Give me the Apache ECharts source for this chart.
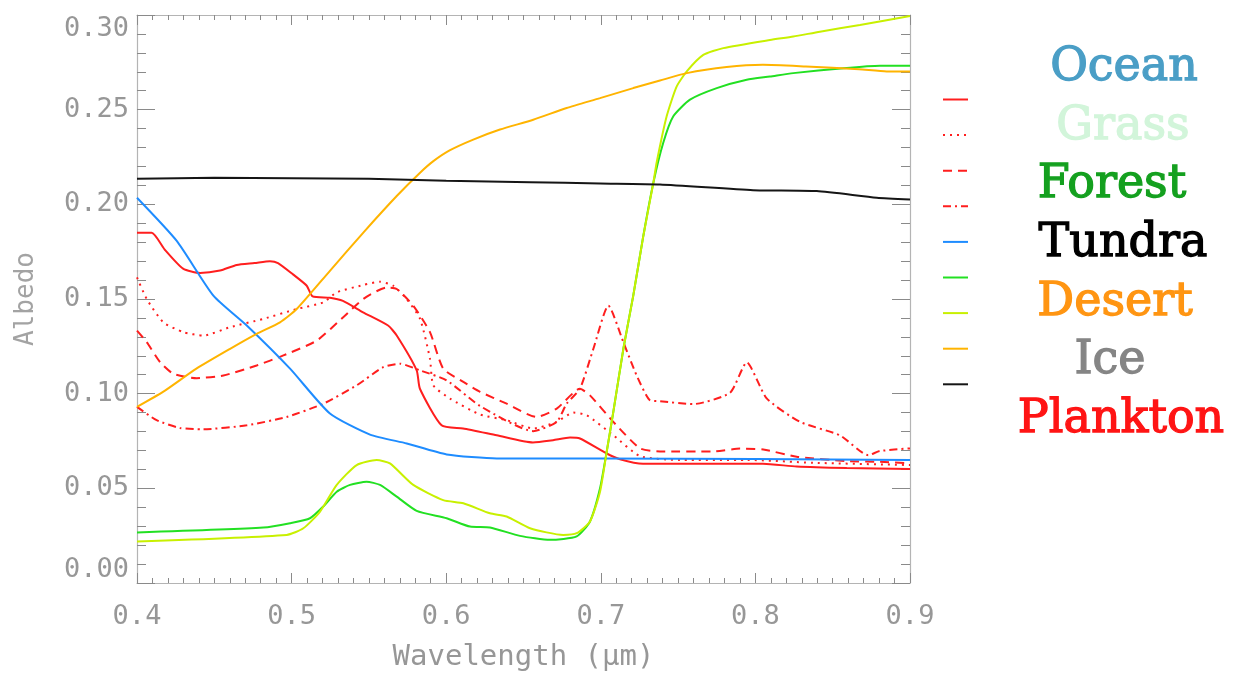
<!DOCTYPE html>
<html>
<head>
<meta charset="utf-8">
<script src="https://cdn.jsdelivr.net/npm/echarts@6.0.0/dist/echarts.min.js"></script>
<style>
html,body{margin:0;padding:0;background:#fff;}
#chart{width:1239px;height:677px;}
</style>
</head>
<body>
<div id="chart"></div>
<script>
// ---- data: [wavelength (µm), albedo] ----
const redSolid = [[0.400,0.185],[0.4095,0.185],[0.418,0.176],[0.4298,0.166],[0.4408,0.1637],[0.4537,0.165],[0.4645,0.168],[0.476,0.169],[0.486,0.170],[0.4912,0.169],[0.5009,0.163],[0.5098,0.157],[0.5136,0.1514],[0.5248,0.1507],[0.5332,0.149],[0.5462,0.143],[0.5624,0.136],[0.568,0.1307],[0.5809,0.1123],[0.583,0.1026],[0.597,0.0833],[0.6109,0.0816],[0.6327,0.078],[0.6561,0.0742],[0.6691,0.0754],[0.6801,0.0768],[0.6865,0.0763],[0.7038,0.0684],[0.7124,0.0654],[0.7273,0.063],[0.7726,0.063],[0.8049,0.063],[0.8267,0.0615],[0.8591,0.0607],[0.9,0.0602]];
const redDotted = [[0.4,0.1614],[0.4063,0.15],[0.417,0.1377],[0.43,0.1325],[0.4429,0.1307],[0.4602,0.1351],[0.4817,0.1395],[0.5033,0.1447],[0.5205,0.1482],[0.5292,0.1535],[0.5464,0.1574],[0.5572,0.1591],[0.5658,0.157],[0.5744,0.15],[0.5831,0.1395],[0.5895,0.1184],[0.5917,0.1044],[0.6025,0.0974],[0.6219,0.089],[0.6391,0.086],[0.6563,0.0816],[0.6715,0.0851],[0.6822,0.09],[0.6909,0.0886],[0.7081,0.078],[0.7254,0.067],[0.7512,0.065],[0.7944,0.065],[0.8374,0.0635],[0.9,0.0623]];
const redDashed = [[0.4,0.1333],[0.4063,0.1272],[0.4149,0.1167],[0.4235,0.1105],[0.4386,0.1082],[0.4559,0.1096],[0.4774,0.1149],[0.4947,0.1202],[0.5162,0.128],[0.5334,0.1404],[0.5464,0.15],[0.5615,0.1561],[0.568,0.1553],[0.5787,0.1465],[0.5895,0.1325],[0.5981,0.1132],[0.6111,0.1062],[0.6219,0.101],[0.6391,0.0947],[0.6584,0.0877],[0.6715,0.0921],[0.6865,0.1026],[0.693,0.0991],[0.7081,0.0851],[0.7254,0.0711],[0.7383,0.0695],[0.7727,0.0695],[0.7901,0.071],[0.8051,0.0705],[0.8267,0.0667],[0.8591,0.0644],[0.8806,0.064],[0.9,0.0632]];
const redDashDot = [[0.4,0.093],[0.4127,0.086],[0.4278,0.0819],[0.4429,0.0812],[0.471,0.0833],[0.4968,0.0877],[0.5205,0.0947],[0.5421,0.1044],[0.5593,0.114],[0.5701,0.1158],[0.5831,0.1123],[0.6003,0.107],[0.6219,0.0935],[0.6563,0.0802],[0.6715,0.0851],[0.6779,0.0947],[0.6865,0.1026],[0.6952,0.1237],[0.7049,0.1465],[0.7146,0.1272],[0.7232,0.1096],[0.7318,0.0965],[0.7383,0.096],[0.7598,0.0945],[0.7836,0.1005],[0.7944,0.1165],[0.8073,0.0975],[0.8288,0.0851],[0.8547,0.078],[0.873,0.0675],[0.8805,0.0697],[0.9,0.0711]];
const blueLine = [[0.4,0.2035],[0.4257,0.1807],[0.4494,0.1518],[0.471,0.136],[0.499,0.1132],[0.5248,0.0895],[0.5507,0.0784],[0.5745,0.0737],[0.6003,0.0679],[0.6327,0.0658],[0.7,0.0658],[0.8,0.0655],[0.9,0.065]];
const greenLine = [[0.4,0.0267],[0.4817,0.0293],[0.499,0.0316],[0.5119,0.0342],[0.5205,0.0404],[0.5292,0.0482],[0.5378,0.0518],[0.5485,0.0535],[0.5572,0.0518],[0.568,0.0456],[0.5809,0.0381],[0.6003,0.0342],[0.6154,0.0298],[0.6283,0.0293],[0.6477,0.0249],[0.6671,0.0228],[0.6844,0.0246],[0.693,0.0325],[0.6995,0.05],[0.7038,0.0693],[0.7081,0.0904],[0.7146,0.1237],[0.721,0.1518],[0.7275,0.1833],[0.734,0.2114],[0.7404,0.2325],[0.7469,0.2465],[0.7577,0.2553],[0.775,0.2614],[0.7944,0.2658],[0.8094,0.2675],[0.8245,0.2693],[0.8569,0.2719],[0.8806,0.2732],[0.9,0.2732]];
const yellowGreenLine = [[0.4,0.0219],[0.4968,0.0254],[0.5076,0.0289],[0.5184,0.0377],[0.5292,0.0518],[0.5421,0.0623],[0.555,0.0649],[0.5636,0.0632],[0.5787,0.0518],[0.5981,0.0438],[0.6111,0.0421],[0.6283,0.0368],[0.6391,0.0351],[0.6542,0.0289],[0.6757,0.0254],[0.6844,0.0263],[0.693,0.0325],[0.6995,0.0482],[0.7038,0.0693],[0.7081,0.0904],[0.7146,0.1237],[0.721,0.1518],[0.7275,0.1833],[0.734,0.2114],[0.7361,0.222],[0.7426,0.2465],[0.7491,0.2623],[0.7556,0.2702],[0.7663,0.2789],[0.7792,0.2825],[0.8094,0.2868],[0.8245,0.2886],[0.8417,0.2912],[0.8676,0.2947],[0.9,0.2995]];
const orangeLine = [[0.4,0.093],[0.4168,0.1009],[0.4384,0.1132],[0.4602,0.1237],[0.4774,0.1316],[0.4925,0.1377],[0.5033,0.1447],[0.5248,0.1649],[0.5464,0.1851],[0.568,0.2044],[0.5831,0.2167],[0.5917,0.2228],[0.6025,0.2286],[0.6175,0.2342],[0.6348,0.2395],[0.6563,0.2447],[0.6779,0.2509],[0.6995,0.2561],[0.721,0.2614],[0.7383,0.2654],[0.7556,0.2693],[0.7814,0.2725],[0.8049,0.2737],[0.8327,0.2728],[0.867,0.2714],[0.8849,0.2702],[0.9,0.2702]];
const blackLine = [[0.4,0.2135],[0.45,0.214],[0.5,0.2138],[0.55,0.2135],[0.6,0.2125],[0.6542,0.2117],[0.6995,0.211],[0.7383,0.2105],[0.7985,0.2075],[0.8397,0.207],[0.8785,0.2035],[0.9,0.2026]];

const labelNames = ['Ocean','Grass','Forest','Tundra','Desert','Ice','Plankton'];
const labelColors = ['#4a9ec6','#d2f5da','#14a01f','#000000','#ff9512','#858585','#ff1414'];

const xTicks = [0.4,0.5,0.6,0.7,0.8,0.9];
const yTicks = [0.00,0.05,0.10,0.15,0.20,0.25,0.30];

// series styles
const seriesDefs = [
  {name:'Red solid',      data:redSolid,        color:'#ff1e1e', type:'solid'},
  {name:'Red dotted',     data:redDotted,       color:'#ff1e1e', type:[2,5]},
  {name:'Red dashed',     data:redDashed,       color:'#ff1e1e', type:[9,6]},
  {name:'Red dash-dot',   data:redDashDot,      color:'#ff1e1e', type:[8,4,2,4]},
  {name:'Blue',           data:blueLine,        color:'#1e8cff', type:'solid'},
  {name:'Green',          data:greenLine,       color:'#22e022', type:'solid'},
  {name:'Yellow-green',   data:yellowGreenLine, color:'#c8f000', type:'solid'},
  {name:'Orange',         data:orangeLine,      color:'#ffb400', type:'solid'},
  {name:'Black',          data:blackLine,       color:'#151515', type:'solid'}
];

const chart = echarts.init(document.getElementById('chart'), null, {renderer:'canvas'});

const tickFont = '"DejaVu Sans Mono", monospace';
const axisGray = '#b4b4b4';
const tickGray = '#8a8a8a';
const labelGray = '#979797';

function xAxisCfg(pos, show){
  return {
    type:'value', position:pos, min:xTicks[0], max:xTicks[xTicks.length-1], interval:0.1,
    axisLine:{show:true, onZero:false, lineStyle:{color:axisGray, width:1.2}},
    axisTick:{show:true, inside:true, length:10, lineStyle:{color:tickGray}},
    minorTick:{show:true, splitNumber:10, length:5, lineStyle:{color:tickGray}},
    splitLine:{show:false}, minorSplitLine:{show:false},
    axisLabel:{show:show, formatter:v=>v.toFixed(1), fontFamily:tickFont, fontSize:27, color:labelGray, margin:20},
    name: show ? 'Wavelength (μm)' : '', nameLocation:'middle', nameGap:60,
    nameTextStyle:{fontFamily:tickFont, fontSize:29, color:labelGray}
  };
}
function yAxisCfg(pos, show){
  return {
    type:'value', position:pos, min:yTicks[0], max:yTicks[yTicks.length-1], interval:0.05,
    axisLine:{show:true, onZero:false, lineStyle:{color:axisGray, width:1.2}},
    axisTick:{show:true, inside:true, length:18, lineStyle:{color:tickGray}},
    minorTick:{show:true, splitNumber:5, length:9, lineStyle:{color:tickGray}},
    splitLine:{show:false}, minorSplitLine:{show:false},
    axisLabel:{show:show, formatter:v=>v.toFixed(2), fontFamily:tickFont, fontSize:27, color:labelGray, margin:8,
      verticalAlignMinLabel:'bottom', verticalAlignMaxLabel:'top'},
    name: show ? 'Albedo' : '', nameLocation:'middle', nameGap:98, nameRotate:90,
    nameTextStyle:{fontFamily:tickFont, fontSize:26, color:'#a3a3a3'}
  };
}

// legend samples + labels as graphics
const graphics = [];
const sampleX0 = 943, sampleX1 = 968, sampleY0 = 99.5, sampleStep = 35.6;
seriesDefs.forEach((s,i)=>{
  const y = sampleY0 + i*sampleStep;
  graphics.push({
    type:'line', shape:{x1:sampleX0, y1:y, x2:sampleX1, y2:y},
    style:{stroke:s.color, lineWidth:2, lineDash: Array.isArray(s.type) ? s.type : null}
  });
});
const labelCenters = [1124,1123,1112,1123,1115,1110,1121];
labelNames.forEach((t,i)=>{
  const isTundra = t === 'Tundra';
  graphics.push({
    type:'text', x:labelCenters[i], y:68 + i*58.7,
    style:{
      text:t, fill:labelColors[i], stroke:labelColors[i], lineWidth:1.3,
      fontFamily:'"DejaVu Serif", serif', fontSize:46,
      align:'center', verticalAlign:'middle',
      shadowColor: isTundra ? 'rgba(0,0,0,0.35)' : 'rgba(0,0,0,0.08)',
      shadowBlur: isTundra ? 4 : 2, shadowOffsetX: isTundra ? 2 : 1, shadowOffsetY: isTundra ? 2 : 1
    }
  });
});

chart.setOption({
  animation:false,
  backgroundColor:'#ffffff',
  grid:{left:137, right:329, top:15, bottom:92, containLabel:false},
  xAxis:[xAxisCfg('bottom', true), xAxisCfg('top', false)],
  yAxis:[yAxisCfg('left', true), yAxisCfg('right', false)],
  series: seriesDefs.map(s=>({
    name:s.name, type:'line', xAxisIndex:0, yAxisIndex:0,
    data:s.data, showSymbol:false, smooth:0.2, clip:true,
    lineStyle:{color:s.color, width:2, type:s.type},
    itemStyle:{color:s.color}
  })),
  graphic: graphics
});
</script>
</body>
</html>
